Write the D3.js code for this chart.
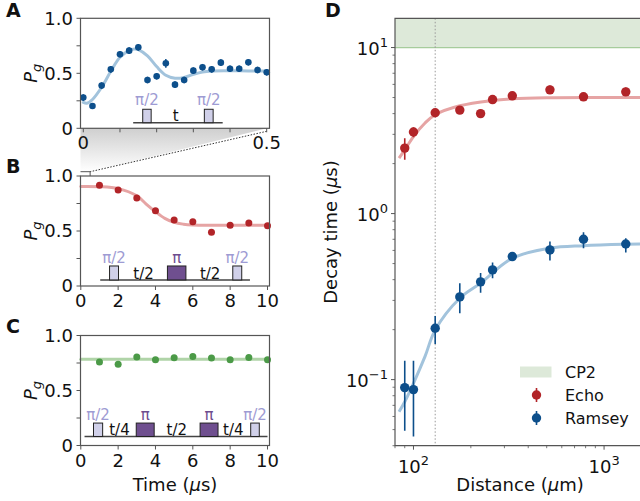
<!DOCTYPE html>
<html><head><meta charset="utf-8">
<script src="https://cdn.jsdelivr.net/npm/d3@7"></script>
<style>
body{margin:0;background:#fff}
text{font-family:"DejaVu Sans",sans-serif;fill:#111}
</style>
</head><body>
<svg id="fig" width="640" height="501"></svg>
<script>
// ---------------- DATA ----------------
// Panel A: Ramsey (0..0.5 us)
const ramseyTimes = [0,0.025,0.05,0.075,0.1,0.125,0.15,0.175,0.2,0.225,0.25,0.275,0.3,0.325,0.35,0.375,0.4,0.425,0.45,0.475,0.5];
const ramseyPg    = [0.279,0.203,0.388,0.536,0.673,0.706,0.736,0.439,0.473,0.591,0.397,0.439,0.524,0.555,0.536,0.597,0.542,0.542,0.600,0.530,0.509];
const ramseyPgErr = [0.03,0.025,0.03,0.03,0.03,0.03,0.03,0.03,0.03,0.04,0.03,0.03,0.03,0.03,0.03,0.03,0.03,0.03,0.03,0.03,0.03];
const ramseyFitT  = [0,0.01,0.025,0.05,0.075,0.1,0.125,0.14,0.15,0.175,0.2,0.225,0.25,0.275,0.3,0.325,0.35,0.4,0.45,0.5];
const ramseyFitPg = [0.235,0.228,0.262,0.373,0.518,0.645,0.709,0.721,0.715,0.658,0.561,0.482,0.455,0.462,0.49,0.512,0.522,0.524,0.522,0.522];
// Panel B: Echo
const echoTimes = [1,2,3,4,5,6,7,8,9,10];
const echoPg    = [0.915,0.873,0.80,0.685,0.60,0.585,0.488,0.552,0.573,0.548];
const echoFitT  = [0,1,2,3,3.5,4,4.5,5,5.5,6,7,8,10];
const echoFitPg = [0.905,0.903,0.885,0.82,0.745,0.675,0.615,0.578,0.562,0.555,0.552,0.552,0.552];
// Panel C: CP2
const cpTimes = [1,2,3,4,5,6,7,8,9,10];
const cpPg    = [0.759,0.738,0.804,0.780,0.798,0.810,0.795,0.780,0.801,0.780];
const cpFitT  = [0,10];
const cpFitPg = [0.784,0.784];
// Panel D: decay time vs distance
const distances   = [90,100,130,175,225,260,330,520,780,1300];
const echoDecay   = [2.48,3.10,4.05,4.20,4.00,4.86,5.12,5.56,5.05,5.41];
const echoLo      = [2.11,2.88,3.85,4.02,3.85,4.68,4.92,5.25,4.80,5.10];
const echoHi      = [2.84,3.31,4.25,4.38,4.15,5.05,5.32,5.90,5.30,5.75];
const ramseyDecay = [0.0895,0.0871,0.204,0.315,0.388,0.458,0.551,0.604,0.701,0.656];
const ramseyLo    = [0.0493,0.0454,0.164,0.251,0.334,0.408,0.521,0.521,0.619,0.582];
const ramseyHi    = [0.130,0.130,0.242,0.381,0.438,0.507,0.582,0.678,0.773,0.711];
const echoFitD    = [84,90,100,115,130,175,260,330,500,1000,2100];
const echoFitV    = [2.16,2.42,2.91,3.51,3.94,4.46,4.80,4.91,4.98,5.0,5.0];
const ramseyFitD  = [84,90,100,115,130,175,225,330,520,780,1300,2100];
const ramseyFitV  = [0.064,0.0736,0.095,0.138,0.199,0.309,0.381,0.538,0.619,0.641,0.654,0.66];
const cp2Band     = [10,15];
const cp2Distance = 130;
const pgTicks = [0,0.25,0.5,0.75,1];
const pgTickLabels = {0:"0",0.5:"0.5",1:"1.0"};
const timeTicksA = [0,0.1,0.2,0.3,0.4,0.5];
const timeTickLabelsA = {0:"0",0.5:"0.5"};
const timeTicks = [0,2,4,6,8,10];
const legendLabels = ["CP2","Echo","Ramsey"];

// ---------------- STYLE ----------------
const C = {
  blue:"#0d4f8b", red:"#b22428", green:"#4b9a47",
  fitBlue:"#a2c3dc", fitRed:"#e6a4a4", fitGreen:"#b0d4a8",
  band:"#dde9d9", bandLine:"#a6cc9c",
  spine:"#555", piHalf:"#9e9bd3", piHalfFill:"#d0d0e9", pi:"#6d4c8e", piFill:"#6f4f8f"
};
const svg = d3.select("#fig");
const FS = 18;

// frames
const fr = {
  A:{l:80.5,r:269.5,t:18.3,b:128.3},
  B:{l:80.5,r:269.5,t:176,b:286},
  C:{l:80.5,r:269.5,t:335.5,b:445.5},
  D:{l:395,r:665,t:18.3,b:445.7}
};
const xA = d3.scaleLinear().domain([0,0.5]).range([83.3,266.7]);
const yA = d3.scaleLinear().domain([0,1]).range([fr.A.b,fr.A.t]);
const xB = d3.scaleLinear().domain([0,10]).range([80.8,267.5]);
const yB = d3.scaleLinear().domain([0,1]).range([fr.B.b,fr.B.t]);
const xC = xB;
const yC = d3.scaleLinear().domain([0,1]).range([fr.C.b,fr.C.t]);
const xD = d3.scaleLog().domain([80,2080]).range([fr.D.l,fr.D.l+190.6*Math.log10(2080/80)]);
const yD = d3.scaleLog().domain([0.04,15]).range([fr.D.b,fr.D.t]);

const defs = svg.append("defs");
const grad = defs.append("linearGradient").attr("id","zg").attr("x1",0).attr("y1",0).attr("x2",0).attr("y2",1);
grad.append("stop").attr("offset","0%").attr("stop-color","#cfcfcf");
grad.append("stop").attr("offset","100%").attr("stop-color","#ffffff");
defs.append("clipPath").attr("id","clipD").append("rect")
  .attr("x",fr.D.l).attr("y",fr.D.t).attr("width",640-fr.D.l+10).attr("height",fr.D.b-fr.D.t);

// ---------- zoom connector between A and B ----------
const zTop = 171.7;
svg.append("path")
  .attr("d",`M${xA(0)-2.8},${fr.A.b} L${xA(0.5)},${fr.A.b} L${xB(0.5)},${zTop} L${fr.B.l},${zTop} Z`)
  .attr("fill","url(#zg)");
svg.append("line").attr("x1",xA(0.5)).attr("y1",fr.A.b+3).attr("x2",xB(0.5)).attr("y2",zTop)
  .attr("stroke","#333").attr("stroke-width",1).attr("stroke-dasharray","1.5,1.5");
svg.append("path").attr("d",`M${fr.B.l},${zTop} L${xB(0.5)},${zTop} L${xB(0.5)},${fr.B.t}`)
  .attr("fill","none").attr("stroke","#555").attr("stroke-width",1);

// helper: text with italic mu
function muText(sel, before, after){
  sel.append("tspan").text(before);
  sel.append("tspan").attr("font-style","italic").text("μ");
  sel.append("tspan").text(after);
}

// ---------- generic linear panel ----------
function frame(f){
  svg.append("rect").attr("x",f.l).attr("y",f.t).attr("width",f.r-f.l).attr("height",f.b-f.t)
    .attr("fill","none").attr("stroke",C.spine).attr("stroke-width",1.2);
}
function linAxes(f,x,y,xt,xl,labelled){
  const gy = svg.append("g").attr("transform",`translate(${f.l},0)`);
  pgTicks.forEach(v=>{
    gy.append("line").attr("x1",0).attr("x2",-4).attr("y1",y(v)).attr("y2",y(v)).attr("stroke",C.spine).attr("stroke-width",1);
    if(pgTickLabels[v]!==undefined)
      gy.append("text").attr("x",-7.5).attr("y",y(v)).attr("dy","0.36em").attr("text-anchor","end")
        .attr("font-size",FS).text(pgTickLabels[v]);
  });
  const gx = svg.append("g");
  xt.forEach(v=>{
    gx.append("line").attr("x1",x(v)).attr("x2",x(v)).attr("y1",f.b).attr("y2",f.b+4).attr("stroke",C.spine).attr("stroke-width",1);
    const lab = xl? xl[v] : String(v);
    if(lab!==undefined)
      gx.append("text").attr("x",x(v)).attr("y",f.b+labelled).attr("text-anchor","middle").attr("font-size",FS).text(lab);
  });
  // P_g label
  const t = svg.append("text").attr("transform",`translate(37,${(f.t+f.b)/2}) rotate(-90)`)
    .attr("text-anchor","middle").attr("font-size",FS);
  t.append("tspan").attr("font-style","italic").text("P");
  t.append("tspan").attr("font-style","italic").attr("font-size",13).attr("dy",4).text("g");
}
function fitLine(x,y,xs,ys,color,w){
  svg.append("path").datum(xs.map((d,i)=>[d,ys[i]]))
    .attr("d",d3.line().x(d=>x(d[0])).y(d=>y(d[1])).curve(d3.curveCatmullRom))
    .attr("fill","none").attr("stroke",color).attr("stroke-width",w).attr("stroke-linecap","round");
}
function pulses(x,y,base,boxTop,items,x0,x1,labelY,tY){
  svg.append("line").attr("x1",x(x0)).attr("x2",x(x1)).attr("y1",y(base)).attr("y2",y(base))
    .attr("stroke","#444").attr("stroke-width",1.5);
  items.forEach(it=>{
    if(it.type==="box"){
      const isPi = it.kind==="pi";
      svg.append("rect").attr("x",x(it.a)).attr("y",y(boxTop)).attr("width",x(it.b)-x(it.a)).attr("height",y(base)-y(boxTop))
        .attr("fill",isPi?C.piFill:C.piHalfFill).attr("stroke","#222").attr("stroke-width",1);
      svg.append("text").attr("x",(x(it.a)+x(it.b))/2).attr("y",y(labelY)).attr("dy","0.36em")
        .attr("text-anchor","middle").attr("font-size",15).style("fill",isPi?C.pi:C.piHalf)
        .text(isPi?"π":"π/2");
    } else {
      svg.append("text").attr("x",x(it.at)).attr("y",y(tY)).attr("dy","0.36em")
        .attr("text-anchor","middle").attr("font-size",15).text(it.text);
    }
  });
}
function dots(x,y,xs,ys,color,r,err){
  const g = svg.append("g");
  xs.forEach((d,i)=>{
    if(err) g.append("line").attr("x1",x(d)).attr("x2",x(d)).attr("y1",y(ys[i]-err[i])).attr("y2",y(ys[i]+err[i]))
      .attr("stroke",color).attr("stroke-width",1.5);
    g.append("circle").attr("cx",x(d)).attr("cy",y(ys[i])).attr("r",r).attr("fill",color);
  });
}

// ---------- Panel A ----------
linAxes(fr.A,xA,yA,timeTicksA,timeTickLabelsA,21);
fitLine(xA,yA,ramseyFitT,ramseyFitPg,C.fitBlue,3);
dots(xA,yA,ramseyTimes,ramseyPg,C.blue,3.3,ramseyPgErr);
pulses(xA,yA,0.051,0.173,[
  {type:"box",kind:"half",a:0.162,b:0.185},
  {type:"t",at:0.252,text:"t"},
  {type:"box",kind:"half",a:0.330,b:0.354}],0.136,0.380,0.257,0.12);
frame(fr.A);

// ---------- Panel B ----------
linAxes(fr.B,xB,yB,timeTicks,null,21);
fitLine(xB,yB,echoFitT,echoFitPg,C.fitRed,3);
dots(xB,yB,echoTimes,echoPg,C.red,3.5,null);
pulses(xB,yB,0.055,0.182,[
  {type:"box",kind:"half",a:1.54,b:2.02},
  {type:"t",at:3.36,text:"t/2"},
  {type:"box",kind:"pi",a:4.64,b:5.63},
  {type:"t",at:6.93,text:"t/2"},
  {type:"box",kind:"half",a:8.14,b:8.62}],1.04,9.06,0.257,0.115);
frame(fr.B);

// ---------- Panel C ----------
linAxes(fr.C,xC,yC,timeTicks,null,21);
fitLine(xC,yC,cpFitT,cpFitPg,C.fitGreen,3);
dots(xC,yC,cpTimes,cpPg,C.green,3.5,null);
pulses(xC,yC,0.082,0.204,[
  {type:"box",kind:"half",a:0.68,b:1.17},
  {type:"t",at:2.07,text:"t/4"},
  {type:"box",kind:"pi",a:2.97,b:3.93},
  {type:"t",at:5.14,text:"t/2"},
  {type:"box",kind:"pi",a:6.39,b:7.35},
  {type:"t",at:8.17,text:"t/4"},
  {type:"box",kind:"half",a:9.10,b:9.56}],0.2,10,0.279,0.143);
frame(fr.C);
muText(svg.append("text").attr("x",(fr.C.l+fr.C.r)/2).attr("y",491).attr("text-anchor","middle").attr("font-size",FS),"Time (","s)");

// ---------- Panel D ----------
const gD = svg.append("g").attr("clip-path","url(#clipD)");
gD.append("rect").attr("x",fr.D.l).attr("y",yD(cp2Band[1])).attr("width",fr.D.r-fr.D.l).attr("height",yD(cp2Band[0])-yD(cp2Band[1]))
  .attr("fill",C.band);
gD.append("line").attr("x1",fr.D.l).attr("x2",fr.D.r).attr("y1",yD(cp2Band[0])).attr("y2",yD(cp2Band[0]))
  .attr("stroke",C.bandLine).attr("stroke-width",1.2);
gD.append("line").attr("x1",xD(cp2Distance)).attr("x2",xD(cp2Distance)).attr("y1",fr.D.t).attr("y2",fr.D.b)
  .attr("stroke","#999").attr("stroke-width",1).attr("stroke-dasharray","1.5,2");
const lineD = d3.line().x(d=>xD(d[0])).y(d=>yD(d[1])).curve(d3.curveCatmullRom);
gD.append("path").datum(echoFitD.map((d,i)=>[d,echoFitV[i]])).attr("d",lineD)
  .attr("fill","none").attr("stroke",C.fitRed).attr("stroke-width",3);
gD.append("path").datum(ramseyFitD.map((d,i)=>[d,ramseyFitV[i]])).attr("d",lineD)
  .attr("fill","none").attr("stroke",C.fitBlue).attr("stroke-width",3);
function dotsD(vals,lo,hi,color){
  distances.forEach((d,i)=>{
    gD.append("line").attr("x1",xD(d)).attr("x2",xD(d)).attr("y1",yD(lo[i])).attr("y2",yD(hi[i]))
      .attr("stroke",color).attr("stroke-width",1.6);
    gD.append("circle").attr("cx",xD(d)).attr("cy",yD(vals[i])).attr("r",4.7).attr("fill",color);
  });
}
dotsD(echoDecay,echoLo,echoHi,C.red);
dotsD(ramseyDecay,ramseyLo,ramseyHi,C.blue);
// frame D (top, left, bottom)
svg.append("path").attr("d",`M${fr.D.r},${fr.D.t} L${fr.D.l},${fr.D.t} L${fr.D.l},${fr.D.b} L${fr.D.r},${fr.D.b}`)
  .attr("fill","none").attr("stroke",C.spine).attr("stroke-width",1.2);
// log ticks
const yMajor = [0.1,1,10], yExp = ["−1","0","1"];
const yMinor = [];
[0.01,0.1,1,10].forEach(dec=>{for(let k=2;k<=9;k++){const v=dec*k; if(v>=0.04&&v<=15) yMinor.push(v);}});
yMinor.forEach(v=>svg.append("line").attr("x1",fr.D.l).attr("x2",fr.D.l-2.5).attr("y1",yD(v)).attr("y2",yD(v)).attr("stroke",C.spine).attr("stroke-width",0.8));
yMajor.forEach((v,i)=>{
  svg.append("line").attr("x1",fr.D.l).attr("x2",fr.D.l-4).attr("y1",yD(v)).attr("y2",yD(v)).attr("stroke",C.spine);
  const t = svg.append("text").attr("x",fr.D.l-7).attr("y",yD(v)+7).attr("text-anchor","end").attr("font-size",FS);
  t.append("tspan").text("10");
  t.append("tspan").attr("font-size",13).attr("dy",-8).text(yExp[i]);
});
const xMajor = [100,1000], xExp = ["2","3"];
const xMinor = [];
[10,100,1000].forEach(dec=>{for(let k=2;k<=9;k++){const v=dec*k; if(v>=80&&v<=2080) xMinor.push(v);}});
xMinor.forEach(v=>svg.append("line").attr("x1",xD(v)).attr("x2",xD(v)).attr("y1",fr.D.b).attr("y2",fr.D.b+2.5).attr("stroke",C.spine).attr("stroke-width",0.8));
xMajor.forEach((v,i)=>{
  svg.append("line").attr("x1",xD(v)).attr("x2",xD(v)).attr("y1",fr.D.b).attr("y2",fr.D.b+4).attr("stroke",C.spine);
  const t = svg.append("text").attr("x",xD(v)).attr("y",fr.D.b+27).attr("text-anchor","middle").attr("font-size",FS);
  t.append("tspan").text("10");
  t.append("tspan").attr("font-size",13).attr("dy",-8).text(xExp[i]);
});
muText(svg.append("text").attr("x",520).attr("y",491).attr("text-anchor","middle").attr("font-size",FS),"Distance (","m)");
muText(svg.append("text").attr("transform",`translate(337,232) rotate(-90)`).attr("text-anchor","middle").attr("font-size",FS),"Decay time (","s)");
// legend
const lg = svg.append("g");
lg.append("rect").attr("x",520).attr("y",366.5).attr("width",31.5).attr("height",11).attr("fill",C.band);
[[C.red,395],[C.blue,418]].forEach(([c,y])=>{
  lg.append("line").attr("x1",536.5).attr("x2",536.5).attr("y1",y-7).attr("y2",y+7).attr("stroke",c).attr("stroke-width",1.6);
  lg.append("circle").attr("cx",536.5).attr("cy",y).attr("r",4.7).attr("fill",c);
});
legendLabels.forEach((l,i)=>lg.append("text").attr("x",565).attr("y",[372,395,418][i]).attr("dy","0.36em").attr("font-size",16).text(l));

// panel letters
[["A",6,17],["B",6,173],["C",6,333],["D",325,17]].forEach(([s,x,y])=>
  svg.append("text").attr("x",x).attr("y",y).attr("font-size",19).attr("font-weight","bold").text(s));
</script>
</body></html>
